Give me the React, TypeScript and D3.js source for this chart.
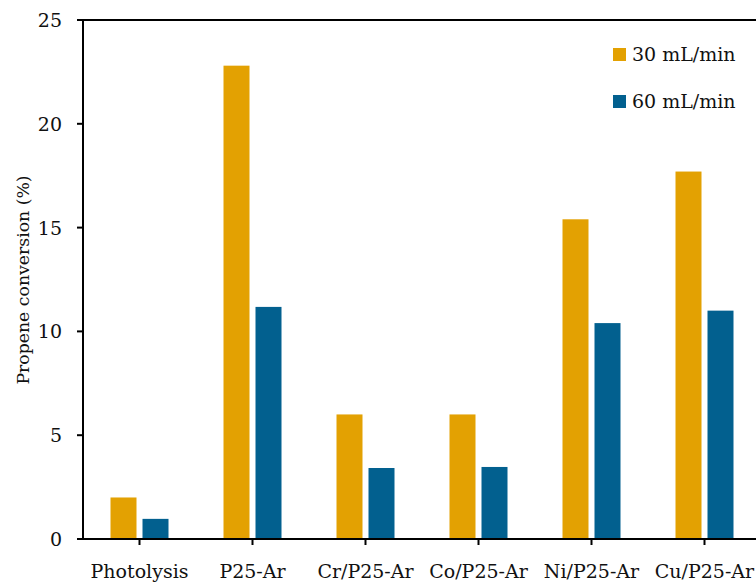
import { useEffect, useRef } from 'react'
import * as d3 from 'd3'

const categories = ['Photolysis', 'P25-Ar', 'Cr/P25-Ar', 'Co/P25-Ar', 'Ni/P25-Ar', 'Cu/P25-Ar']
const series30 = [2.0, 22.8, 6.0, 6.0, 15.4, 17.7]
const series60 = [0.97, 11.18, 3.42, 3.47, 10.4, 11.0]
const seriesNames = ['30 mL/min', '60 mL/min']
const yTicks = [0, 5, 10, 15, 20, 25]

const colors = ['#E3A102', '#02608F']
const font = '"DejaVu Serif", serif'

export default function App() {
  const ref = useRef<SVGSVGElement>(null)

  useEffect(() => {
    const svg = d3.select(ref.current)
    svg.selectAll('*').remove()

    const width = 756
    const height = 583
    const left = 83
    const top = 20
    const bottom = 539

    const x = d3.scaleBand().domain(categories).range([left, left + 113 * categories.length])
    const y = d3.scaleLinear().domain([0, 25]).range([bottom, top])

    svg.attr('width', width).attr('height', height)

    const g = svg.append('g')

    // bars
    const barW = 26
    const gap = 3
    const both = [series30, series60]
    both.forEach((vals, si) => {
      g.selectAll(`rect.s${si}`)
        .data(vals)
        .join('rect')
        .attr('class', `s${si}`)
        .attr('x', (_, i) => {
          const c = x(categories[i])! + x.bandwidth() / 2
          return si === 0 ? c - gap - barW : c + gap
        })
        .attr('width', barW)
        .attr('y', (d) => y(d))
        .attr('height', (d) => bottom - y(d))
        .attr('fill', colors[si])
    })

    // frame lines
    g.append('line')
      .attr('x1', left - 6).attr('x2', width).attr('y1', top).attr('y2', top)
      .attr('stroke', '#000').attr('stroke-width', 2)
    g.append('line')
      .attr('x1', left - 6).attr('x2', width).attr('y1', bottom).attr('y2', bottom)
      .attr('stroke', '#000').attr('stroke-width', 2)
    g.append('line')
      .attr('x1', left).attr('x2', left).attr('y1', top).attr('y2', bottom)
      .attr('stroke', '#000').attr('stroke-width', 2)

    // y ticks
    g.selectAll('line.yt')
      .data(yTicks)
      .join('line')
      .attr('class', 'yt')
      .attr('x1', left - 6).attr('x2', left)
      .attr('y1', (d) => y(d)).attr('y2', (d) => y(d))
      .attr('stroke', '#000').attr('stroke-width', 2)
    g.selectAll('text.yl')
      .data(yTicks)
      .join('text')
      .attr('class', 'yl')
      .attr('x', 62)
      .attr('y', (d) => y(d) + 7)
      .attr('text-anchor', 'end')
      .attr('font-family', font)
      .attr('font-size', 19)
      .attr('fill', '#111')
      .text((d) => d)

    // x ticks
    g.selectAll('line.xt')
      .data(categories)
      .join('line')
      .attr('class', 'xt')
      .attr('x1', (d) => x(d)! + x.bandwidth() / 2)
      .attr('x2', (d) => x(d)! + x.bandwidth() / 2)
      .attr('y1', bottom).attr('y2', bottom + 6)
      .attr('stroke', '#000').attr('stroke-width', 2)
    g.selectAll('text.xl')
      .data(categories)
      .join('text')
      .attr('class', 'xl')
      .attr('x', (d) => x(d)! + x.bandwidth() / 2)
      .attr('y', 578)
      .attr('text-anchor', 'middle')
      .attr('font-family', font)
      .attr('font-size', 19)
      .attr('fill', '#111')
      .text((d) => d)

    // y title
    g.append('text')
      .attr('transform', 'translate(29,280) rotate(-90)')
      .attr('text-anchor', 'middle')
      .attr('font-family', font)
      .attr('font-size', 17.3)
      .attr('fill', '#111')
      .text('Propene conversion (%)')

    // legend
    const lg = g.selectAll('g.lg')
      .data(seriesNames)
      .join('g')
      .attr('class', 'lg')
      .attr('transform', (_, i) => `translate(613,${48 + i * 47})`)
    lg.append('rect')
      .attr('width', 13).attr('height', 13)
      .attr('fill', (_, i) => colors[i])
    lg.append('text')
      .attr('x', 19).attr('y', 13)
      .attr('font-family', font)
      .attr('font-size', 19)
      .attr('fill', '#111')
      .text((d) => d)
  }, [])

  return <svg ref={ref} style={{ position: 'absolute', left: 0, top: 0 }} />
}
